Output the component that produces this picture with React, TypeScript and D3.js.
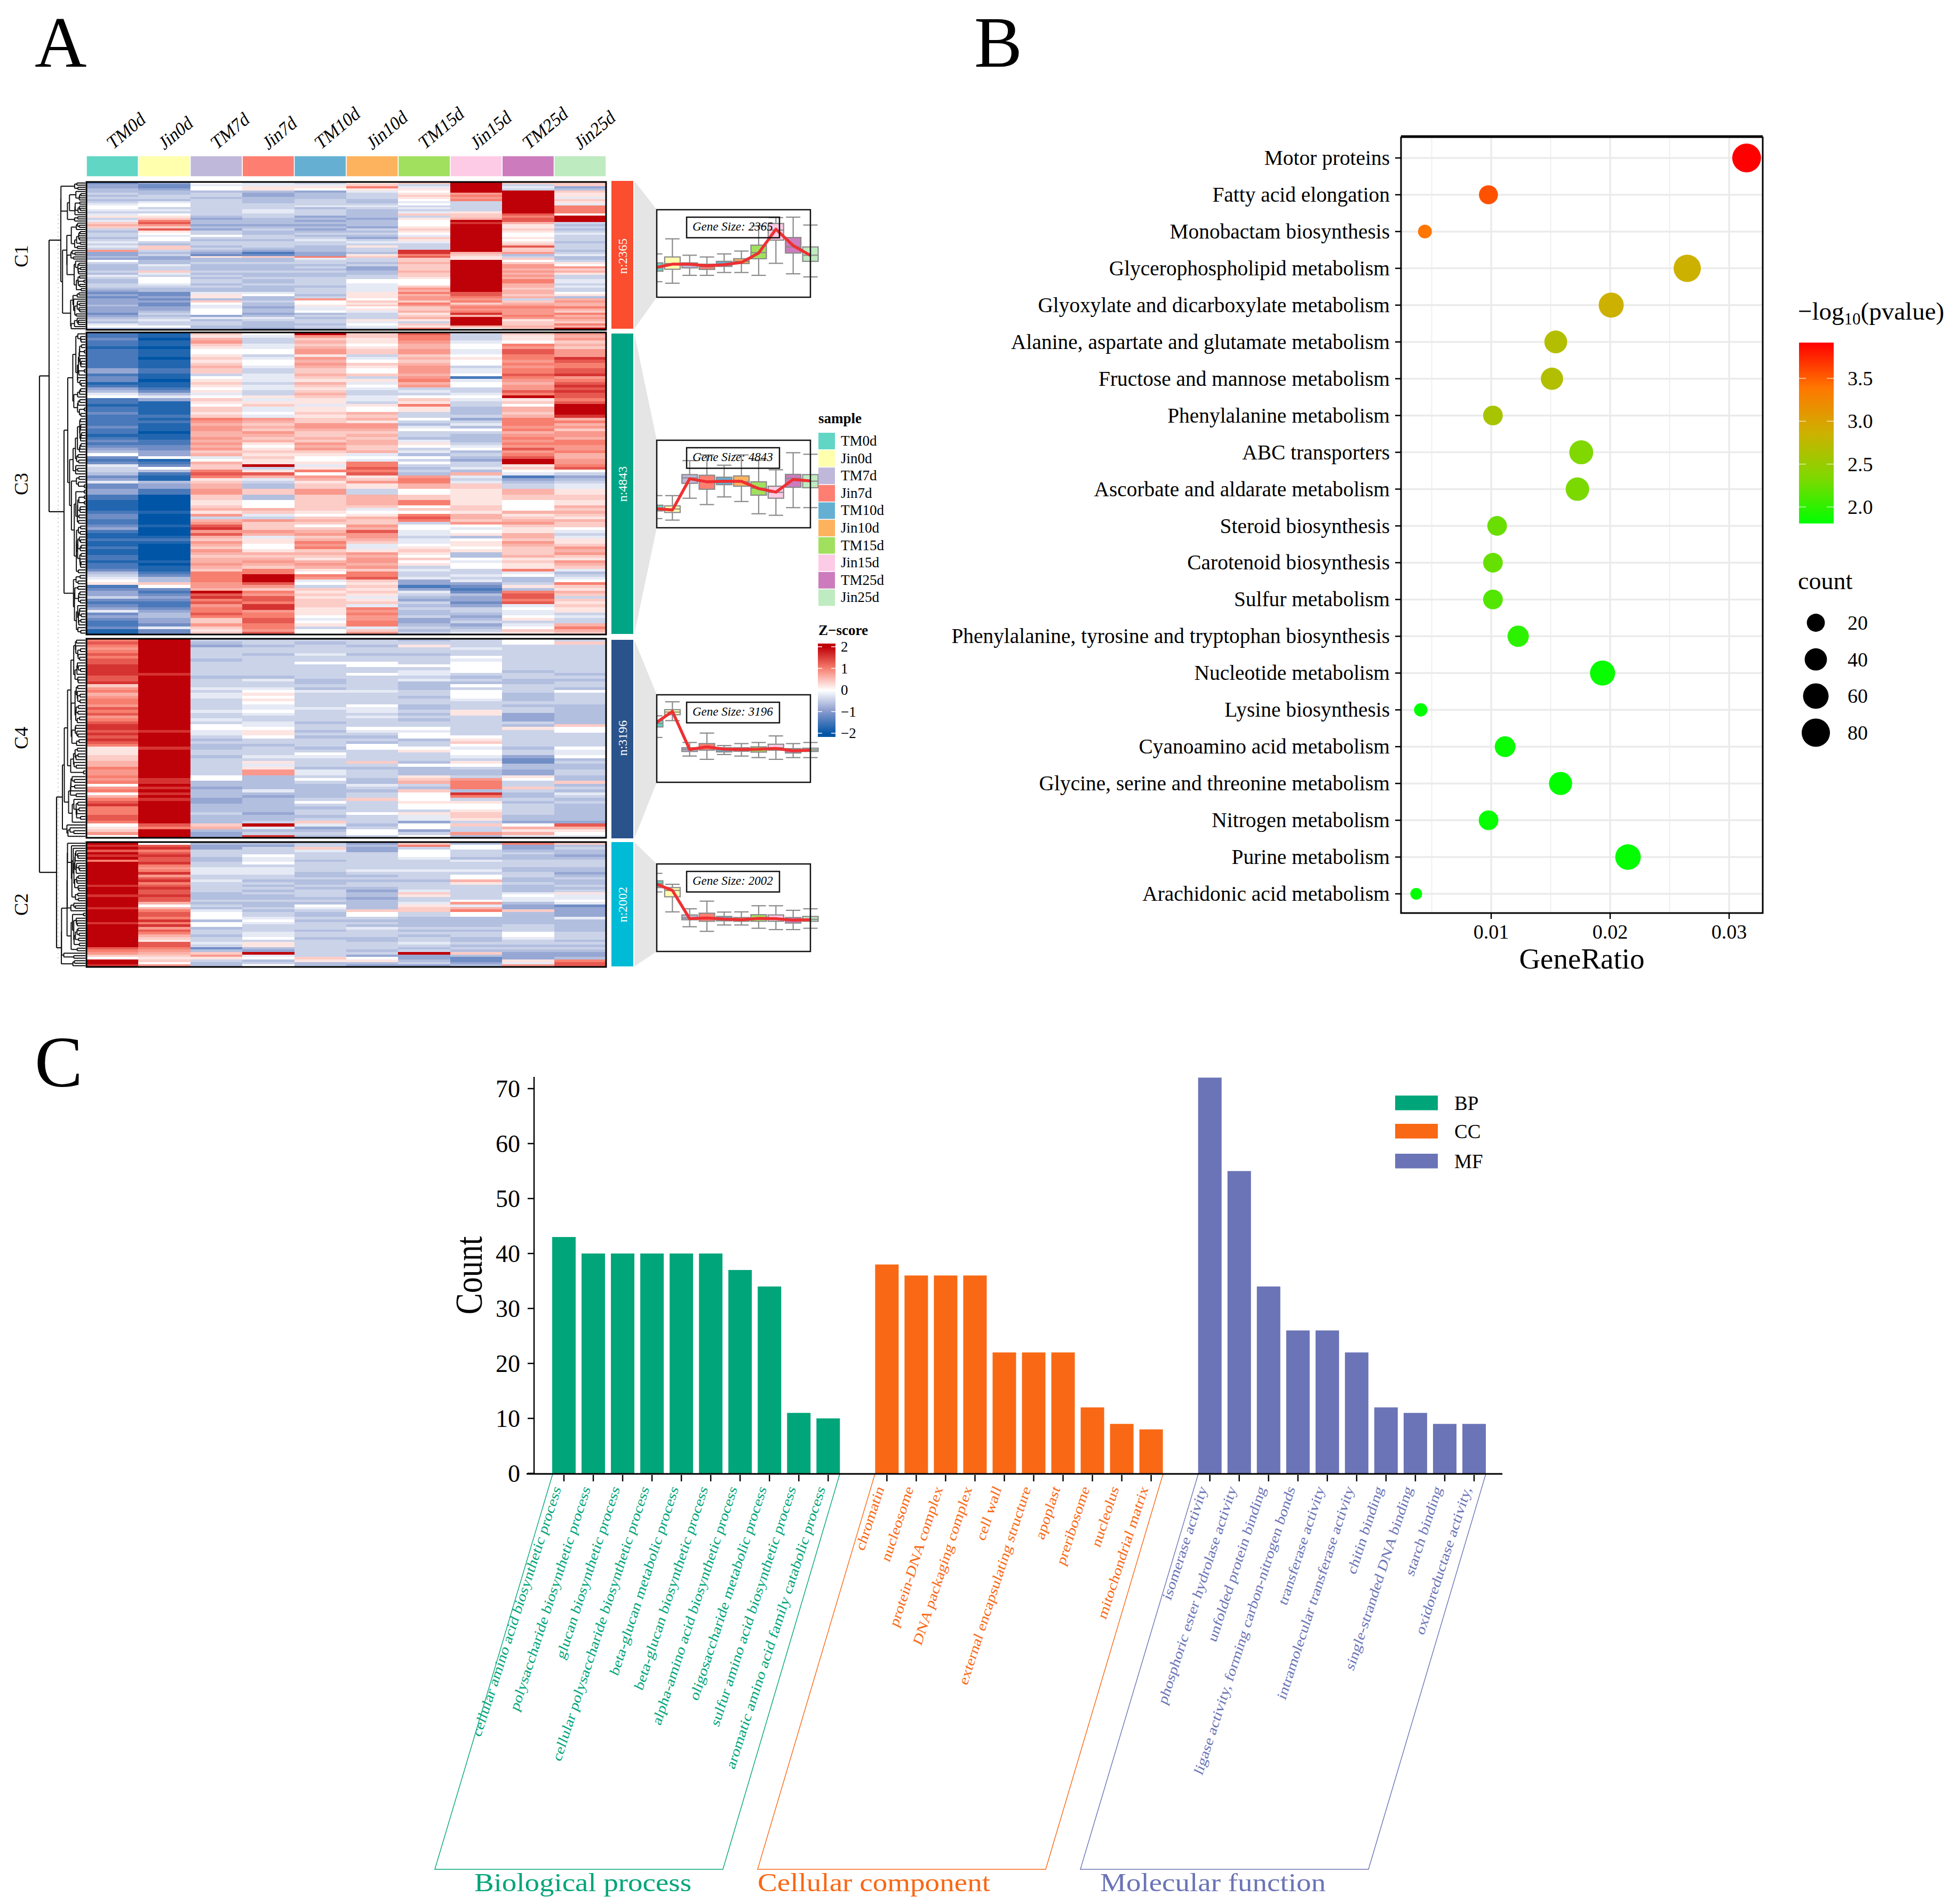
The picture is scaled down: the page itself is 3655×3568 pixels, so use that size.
import React, { useMemo } from "react";
import * as d3 from "d3";

const FONT = "'Liberation Serif', 'Times New Roman', serif";

// ---------- Panel A data ----------
const sampleNames = ["TM0d", "Jin0d", "TM7d", "Jin7d", "TM10d", "Jin10d", "TM15d", "Jin15d", "TM25d", "Jin25d"];
const sampleColors = ["#62D6C4", "#FFFFAE", "#BFB8DA", "#FE7F72", "#65B0D2", "#FDB35E", "#A0E05E", "#FDCBE6", "#CC7CBD", "#BFEBC0"];
// z-score letter levels
const levelChars = "abcdefghijklmnopq";
const levelValues = [-2, -1.75, -1.45, -1.15, -0.85, -0.62, -0.42, -0.2, 0, 0.2, 0.4, 0.6, 0.8, 1, 1.3, 1.6, 2];

const heatC1 = [
  ["deeffgfgfg", "hiihghjghk", "lkgfggfghg", "hgmeefeigf", "ffgfhgfggg", "fededeeefe", "eedefgfhif"],
  ["eddeffggfh", "iighgijkno", "mkojihiigf", "kkgfgeeffh", "ggkhgiijhg", "ffddededde", "efgfghggif"],
  ["ihiifggfgg", "ggggggfeff", "efeggigfgg", "fgfedjffgf", "ffgfgfggfg", "ffhjjfkihh", "iiiehfggff"],
  ["hhjjfeefff", "ggghhggfff", "efgffggfgg", "gfecdkffgf", "ffgffgffgf", "ffhiffgffe", "ffefhgfffe"],
  ["ghjiefffgg", "ghfgggefef", "efefgfghgg", "fffeenhggf", "gfgffggggf", "gggfgmiijh", "hifgfggfgf"],
  ["jknjhgggff", "ghgffffeff", "fegfgfeghg", "jggfjkggfg", "eeffggiihh", "hhjjjikjki", "jhgggjhihg"],
  ["kghjijkjih", "ighghkgjii", "ijkjihkjhg", "ggppnokklk", "kklkkjiiik", "mlnlmmknmk", "kljkljgkjn"],
  ["qqqqqmnmng", "ggggjkklqp", "qqqqqqqqqq", "qqqlkjjqqq", "qqqqqqqqqq", "qqoonmnkmn", "mnplqqqqli"],
  ["kghgqqqqqq", "qqqqqonool", "jjkjiijijk", "okkmfgkikm", "mlmlmlnmll", "kllklgklmn", "mmmnmjkklk"],
  ["kkefkjjhkj", "hnnnniqqqg", "fgfghgggfg", "ggfghffgji", "mkljgghggh", "ggijflmlln", "lknlmlknlq"],
];
const heatC3 = [
  ["ccdccbcdcc", "ccceccddbc", "efhiccbcdc", "cdccdccbcd", "cdefidcdhg", "gfdehddeec", "abbbbcddcc", "decbbcbbcb", "bccbccdfgh", "ijcdeegdcd", "ehdedccdbb"],
  ["bbabbabcba", "bbbcbbbabb", "cdfhebbbbc", "bbcbbbabbc", "cddeeibcdi", "fcbbfedcba", "aaaaabaaaa", "baaabcbaaa", "aaababbcdf", "fkidcdedcc", "deffeedhdd"],
  ["kjlmkjiijk", "jklkggijkj", "ijhikjikjk", "nmmlmmllml", "mlmklhilkk", "nonjklimlk", "kjikljmglm", "opmolkmlkm", "lkllmlknnn", "nmmlqopnom", "nnonkkmkjk"],
  ["ihgghhihgh", "iihghjhhgh", "hggjhjkhih", "mnlklkmlkl", "jijkjkjjqg", "jolhgfnkgf", "kihilkhgmk", "kkmlhjjiij", "lklmlknnqq", "qomknmoonp", "pmnnoonnmo"],
  ["qmklklmjjm", "lmlklmkjlk", "jklkjjhjkj", "klkmmlkklk", "mlmkjiijhj", "nimljkmmmk", "mklkkjiklk", "iklmklnmnk", "lkjlmljinm", "higkjkjkkk", "jjjihijgii"],
  ["kkjjijkjgh", "ikjikhgjhi", "hgghhgjilk", "lkjmmlklkl", "lkklhihnno", "nojkmjggjl", "kljkhijlkk", "mlommlkhhj", "mlmmlmknno", "kjkjkjhjkh", "nmnmmnnhkm"],
  ["onnmllmlkl", "klmmlkmnlm", "ghgikjnjgg", "ijgfhiggfh", "jighfigigf", "gfmnnlqikk", "onmikinong", "iihhghhijk", "jikijghggh", "eecehgfegf", "gffgeefgfg"],
  ["ggghiihkij", "iighihchii", "gghihggffg", "edghfigfff", "ghifgfeggh", "flhghknjij", "gjkkkjllkm", "ihijfijjij", "ffihiigghg", "hedcdfeede", "ggfefgefgh"],
  ["kjjinmonnn", "mnmnomnmlm", "monqjkilkl", "nmnnmnlmnm", "nmomnoqqjk", "ihcefghlmk", "lihiiljklm", "kjjllkmlkk", "kljkjjnhif", "fgjfnoonoh", "ihhijghikj"],
  ["mlmklkmnmp", "onnopomnop", "opoonoqqqp", "lmnlmkmmln", "nmmnllmmno", "igefghhjik", "jjklklkjlk", "kihghjjkml", "mkjmlkhfgh", "inkjlkgkjk", "jjghgglnlk"],
];
const heatC4 = [
  ["nonmnonoop", "pppoopkmnl", "mnnmonomno", "ppopoponjj", "jkkllnmonm", "nimnilnopn", "nnoonijkmi"],
  ["qqqqqqqqqq", "qqpqqqqqqq", "qqqqqqqqqq", "qqpqqqqqpq", "qqqqqqqoqp", "pqpqpqpqqq", "qqqqqonqqq"],
  ["gfeggggfgg", "gggfggghgh", "hgggghgghg", "iihhgfgffg", "gfgggggjii", "ffefffeeff", "fgfffklfee"],
  ["ggfggfgggg", "gggfhgghij", "ijihhihggh", "hijjiggfgg", "ghgjhjmlff", "fffhfeffff", "feffgqhfgp"],
  ["gfggghggig", "ggggffgfhg", "gggghggggf", "ggfgfgggfg", "ihgggfhggi", "gfffffgigf", "ggfgkhefgf"],
  ["ggfggfggii", "ggiggggghg", "gggihhghgg", "gihgfgfiig", "gggkgfgfgf", "fhgfggkggg", "gigggfgiig"],
  ["fgjggfgggi", "ghhghfffgg", "fggffgfgfg", "gihiifggij", "gggfiffgjk", "lgfkiiijii", "gjhheiiegi"],
  ["ggghggihii", "iigfgfigii", "ihgggjjggg", "ggggijkihi", "ihgjigfggm", "nnnfpngjii", "jkkjgkggmf"],
  ["iigggggggg", "gfggffgggf", "ffgfggeeeg", "fjggggggfg", "geddffefji", "ggkgffgfgg", "ggffeiljlh"],
  ["gkgggggggg", "ggfgfggfig", "gggfffffff", "kiigggggih", "hifgffgfff", "kfgfhgfgff", "ffffeoljih"],
];
const heatC2 = [
  ["qpqoqpqnqq", "qqqqqqqpqq", "qpqqqqpqqp", "qqpqqqqqqq", "qqonmkiqqp"],
  ["iopnopoopn", "mnpmopnopo", "opoolilnop", "npnpmonlkj", "oonmlkjkim"],
  ["feegggffgg", "hhhgghgggg", "fffgfgfhih", "ifiifggfgg", "hgdfkmjgff"],
  ["fegggihhig", "hhhggfgfgf", "gffgffgfgj", "hihggghhig", "jjfeqhifgi"],
  ["ggkhgggfgg", "ggffgffgfg", "ggfgfihgfg", "gfgggfggfg", "ggggggkjff"],
  ["efeegggggg", "ghgfgfggfe", "ffeffffkig", "gfgfhgggff", "gggfgeijfe"],
  ["kngiiihggg", "ghgggfgggh", "kjgghjkkgf", "ffffgfgfgg", "hgfgqeefge"],
  ["fiigggfhgg", "ghgiiljggg", "gggimhlnif", "ffffgfggff", "gfgfkfddef"],
  ["neefgffggg", "ffggffgfff", "hihhfeekff", "fffgggiihg", "gfgfeeejhm"],
  ["kfgffefggg", "ffefgffgfg", "jhhihdeeef", "hfffffgggf", "gfgfeefnoo"],
];

const clusterNames = ["C1", "C3", "C4", "C2"];
const clusterSizes = [2365, 4843, 3196, 2002];
const clusterColors = ["#FB4D30", "#00A585", "#2A538B", "#00BBD6"];
const clusterRows = [70, 110, 70, 50];

// box stats per sample: [upper whisker, q3, median, q1, lower whisker]
const profileC1 = [[-0.02,-0.43,-0.65,-0.81,-1.29],[0.67,-0.16,-0.46,-0.72,-1.36],[-0.08,-0.43,-0.53,-0.66,-1.0],[-0.16,-0.49,-0.61,-0.73,-1.0],[-0.02,-0.36,-0.49,-0.59,-0.87],[0.11,-0.24,-0.36,-0.46,-0.87],[1.26,0.38,0.04,-0.24,-1.0],[1.64,1.37,1.07,0.61,-0.45],[1.66,0.73,0.3,0.02,-0.93],[1.3,0.3,-0.08,-0.36,-1.07]];
const profileC3 = [[-0.53,-0.97,-1.12,-1.23,-1.58],[-0.53,-1.0,-1.14,-1.3,-1.65],[1.07,0.43,0.28,0.03,-0.65],[1.33,0.4,0.1,-0.24,-0.94],[0.86,0.31,0.1,-0.03,-0.59],[1.33,0.37,0.1,-0.1,-0.8],[1.09,0.1,-0.19,-0.51,-1.36],[0.65,-0.1,-0.38,-0.65,-1.43],[1.43,0.44,0.26,-0.15,-1.08],[1.36,0.43,0.13,-0.17,-1.08]];
const profileC4 = [[1.04,0.83,0.69,0.53,0.05],[1.68,1.32,1.21,1.09,0.82],[-0.18,-0.42,-0.5,-0.59,-0.8],[0.25,-0.23,-0.38,-0.53,-0.95],[-0.32,-0.42,-0.5,-0.61,-0.73],[-0.23,-0.42,-0.5,-0.58,-0.8],[-0.18,-0.38,-0.49,-0.62,-0.87],[0.12,-0.26,-0.42,-0.53,-0.95],[-0.23,-0.46,-0.56,-0.66,-0.87],[-0.18,-0.44,-0.52,-0.59,-0.87]];
const profileC2 = [[1.57,1.23,1.1,0.92,0.72],[1.07,0.92,0.79,0.5,-0.19],[-0.05,-0.33,-0.47,-0.55,-0.87],[0.3,-0.25,-0.47,-0.62,-1.08],[-0.2,-0.4,-0.49,-0.6,-0.79],[-0.19,-0.45,-0.53,-0.62,-0.79],[0.09,-0.32,-0.49,-0.62,-0.94],[0.09,-0.33,-0.5,-0.62,-1.0],[-0.12,-0.45,-0.57,-0.7,-1.0],[-0.05,-0.4,-0.53,-0.62,-0.94]];
const meanC1 = [-0.65,-0.49,-0.49,-0.56,-0.51,-0.41,0.02,1.11,0.36,-0.09];
const meanC3 = [-1.12,-1.19,0.24,0.1,0.13,0.12,-0.21,-0.37,0.21,0.14];
const meanC4 = [0.69,1.24,-0.5,-0.38,-0.49,-0.5,-0.49,-0.45,-0.56,-0.53];
const meanC2 = [1.1,0.79,-0.5,-0.47,-0.52,-0.55,-0.49,-0.5,-0.57,-0.55];
const zTicks = [2, 1, 0, -1, -2];

// ---------- Panel B data ----------
const pathways = ["Motor proteins","Fatty acid elongation","Monobactam biosynthesis","Glycerophospholipid metabolism","Glyoxylate and dicarboxylate metabolism","Alanine, aspartate and glutamate metabolism","Fructose and mannose metabolism","Phenylalanine metabolism","ABC transporters","Ascorbate and aldarate metabolism","Steroid biosynthesis","Carotenoid biosynthesis","Sulfur metabolism","Phenylalanine, tyrosine and tryptophan biosynthesis","Nucleotide metabolism","Lysine biosynthesis","Cyanoamino acid metabolism","Glycine, serine and threonine metabolism","Nitrogen metabolism","Purine metabolism","Arachidonic acid metabolism"];
const geneRatio = [0.03147,0.00977,0.00443,0.02648,0.02009,0.01543,0.01511,0.01015,0.01757,0.01725,0.0105,0.01015,0.01015,0.01227,0.01936,0.00408,0.01117,0.01583,0.00978,0.0215,0.0037];
const pathwayCount = [84,24,7,72,57,43,40,27,50,47,27,27,27,35,57,6,32,45,27,60,3];
const logP = [3.92,3.56,3.4,2.87,2.87,2.7,2.68,2.62,2.35,2.33,2.26,2.24,2.16,2.0,1.85,1.82,1.85,1.83,1.84,1.83,1.82];
const ratioTicks = [0.01, 0.02, 0.03];
const ratioMinor = [0.005, 0.015, 0.025];
const pTicks = [3.5, 3.0, 2.5, 2.0];
const countTicks = [20, 40, 60, 80];
const pStops = [1.82, 2.345, 2.87, 3.395, 3.92];
const pStopColors = ["#00FF00", "#7FD800", "#CDB100", "#FF7700", "#FF0000"];

// ---------- Panel C data ----------
const bpTerms = ["cellular amino acid biosynthetic process","polysaccharide biosynthetic process","glucan biosynthetic process","cellular polysaccharide biosynthetic process","beta-glucan metabolic process","beta-glucan biosynthetic process","alpha-amino acid biosynthetic process","oligosaccharide metabolic process","sulfur amino acid biosynthetic process","aromatic amino acid family catabolic process"];
const bpCounts = [43,40,40,40,40,40,37,34,11,10];
const ccTerms = ["chromatin","nucleosome","protein-DNA complex","DNA packaging complex","cell wall","external encapsulating structure","apoplast","preribosome","nucleolus","mitochondrial matrix"];
const ccCounts = [38,36,36,36,22,22,22,12,9,8];
const mfTerms = ["isomerase activity","phosphoric ester hydrolase activity","unfolded protein binding","ligase activity, forming carbon-nitrogen bonds","transferase activity","intramolecular transferase activity","chitin binding","single-stranded DNA binding","starch binding","oxidoreductase activity,"];
const mfCounts = [72,55,34,26,26,22,12,11,9,9];
const goColors = ["#00A57A", "#F96815", "#6B74B6"];
const goShort = ["BP", "CC", "MF"];
const goLong = ["Biological process", "Cellular component", "Molecular function"];
const countAxisTicks = [0, 10, 20, 30, 40, 50, 60, 70];

// ---------- helpers ----------
const zColor = d3.scaleLinear<string>().domain([-2, -1, 0, 1, 2]).range(["#0055A6", "#8497CB", "#FFFFFF", "#F77F70", "#BE0008"]).clamp(true);
const pColor = d3.scaleLinear<string>().domain(pStops).range(pStopColors).clamp(true);
const cell = (s: string, i: number, n: number) => levelValues[levelChars.indexOf(s[Math.floor((i / n) * s.length)])] ?? 0;

type Seg = [number, number, number, number];
function dendrogram(rows: number[][], yOf: (i: number) => number, leafX: number, rootX: number) {
  type Node = { y: number; h: number; v: number[]; n: number };
  let nodes: Node[] = rows.map((v, i) => ({ y: yOf(i), h: 0, v, n: 1 }));
  const merges: { a: Node; b: Node; m: Node }[] = [];
  while (nodes.length > 1) {
    let best = 0, bd = Infinity;
    for (let i = 0; i < nodes.length - 1; i++) {
      const d = d3.sum(nodes[i].v, (x, k) => (x - nodes[i + 1].v[k]) ** 2) * (nodes[i].n * nodes[i + 1].n) / (nodes[i].n + nodes[i + 1].n);
      if (d < bd) { bd = d; best = i; }
    }
    const a = nodes[best], b = nodes[best + 1];
    const m: Node = { y: (a.y + b.y) / 2, h: Math.max(Math.sqrt(bd), a.h, b.h) + 0.05, n: a.n + b.n, v: a.v.map((x, k) => (x * a.n + b.v[k] * b.n) / (a.n + b.n)) };
    merges.push({ a, b, m });
    nodes.splice(best, 2, m);
  }
  const root = nodes[0];
  const x = d3.scalePow().exponent(0.6).domain([0, root.h]).range([leafX, rootX]);
  const segs: Seg[] = [];
  merges.forEach(({ a, b, m }) => {
    segs.push([x(a.h), a.y, x(m.h), a.y], [x(b.h), b.y, x(m.h), b.y], [x(m.h), a.y, x(m.h), b.y]);
  });
  return { segs, rootY: root.y, rootX };
}

function Profile({ top, left, stats, means, size, idx }: { top: number; left: number; stats: number[][]; means: number[]; size: number; idx: number }) {
  const h = 164, w = 288;
  const y = d3.scaleLinear().domain([-2, 2]).range([top + h, top]);
  const x = d3.scaleLinear().domain([0, 9]).range([left - 3, left + w]);
  const line = d3.line<number>().x((_, i) => x(i)).y((d) => y(d));
  return (
    <g>
      <defs>
        <clipPath id={`pc${idx}`}><rect x={left} y={top - 10} width={w + 60} height={h + 20} /></clipPath>
      </defs>
      <g clipPath={`url(#pc${idx})`}>
        {stats.map((s, i) => {
          const cx = x(i);
          return (
            <g key={i} stroke="#8A8A8A" strokeWidth={2.2}>
              <line x1={cx} x2={cx} y1={y(s[0])} y2={y(s[4])} />
              <line x1={cx - 13.5} x2={cx + 13.5} y1={y(s[0])} y2={y(s[0])} />
              <line x1={cx - 13.5} x2={cx + 13.5} y1={y(s[4])} y2={y(s[4])} />
              <rect x={cx - 14.5} width={29} y={y(s[1])} height={y(s[3]) - y(s[1])} fill={sampleColors[i]} />
              <line x1={cx - 14.5} x2={cx + 14.5} y1={y(s[2])} y2={y(s[2])} />
            </g>
          );
        })}
        <path d={line(means) ?? ""} fill="none" stroke="#EE3032" strokeWidth={5.5} strokeLinejoin="round" />
      </g>
      <rect x={left} y={top} width={w} height={h} fill="none" stroke="#111" strokeWidth={2.5} />
      <rect x={left + 56} y={top + 14} width={174} height={38.5} fill="none" stroke="#111" strokeWidth={2.5} />
      <text x={left + 67} y={top + 39} fontSize={23} fontStyle="italic" fontFamily={FONT}>{`Gene Size: ${size}`}</text>
    </g>
  );
}

function PanelA() {
  const tops = [341, 623, 1197, 1578];
  const bottoms = [618, 1189, 1570, 1812];
  const barTops = [339, 625, 1199, 1578];
  const barBottoms = [616, 1188, 1571, 1811];
  const boxTops = [393, 825, 1302, 1619];
  const heats = [heatC1, heatC3, heatC4, heatC2];
  const stats = [profileC1, profileC3, profileC4, profileC2];
  const means = [meanC1, meanC3, meanC4, meanC2];
  const labelY = [480, 907, 1383, 1695];
  const rootXs = [114, 120, 117, 115];
  const x = d3.scaleBand<number>().domain(d3.range(10)).range([162, 1136]);

  const dendros = useMemo(() => heats.map((heat, c) => {
    const n = clusterRows[c];
    const rows = d3.range(n).map((i) => heat.map((col) => cell(col.join(""), i, n)));
    const y = d3.scaleBand<number>().domain(d3.range(n)).range([tops[c], bottoms[c]]);
    return dendrogram(rows, (i) => (y(i) ?? 0) + y.bandwidth() / 2, 160, rootXs[c]);
  }), []);
  const midTop = (dendros[0].rootY + dendros[1].rootY) / 2;
  const midBottom = (dendros[2].rootY + dendros[3].rootY) / 2;

  return (
    <g fontFamily={FONT}>
      <text x={65} y={125} fontSize={135}>A</text>
      {sampleNames.map((s, j) => (
        <g key={s}>
          <text transform={`translate(${(x(j) ?? 0) + x.bandwidth() / 2},282) scale(1,1.2) rotate(-35)`} fontSize={31}>{s}</text>
          <rect x={x(j)} y={292} width={x.bandwidth()} height={39} fill={sampleColors[j]} stroke="#fff" strokeWidth={1.5} />
        </g>
      ))}
      {/* dotted guide left of the trees */}
      <line x1={109} x2={109} y1={402} y2={1800} stroke="#BBB" strokeWidth={1.5} strokeDasharray="2 6" />
      {heats.map((heat, c) => {
        const n = clusterRows[c];
        const y = d3.scaleBand<number>().domain(d3.range(n)).range([tops[c], bottoms[c]]);
        return (
          <g key={c}>
            <path d={`M1189,${barTops[c]} L1231,${boxTops[c]} L1231,${boxTops[c] + 164} L1189,${barBottoms[c]} Z`} fill="#E5E5E5" />
            <g shapeRendering="crispEdges">
              {heat.map((col, j) => {
                const s = col.join("");
                return d3.range(n).map((i) => (
                  <rect key={`${j}-${i}`} x={x(j)} y={y(i)} width={x.bandwidth() + 0.5} height={y.bandwidth() + 0.6} fill={zColor(cell(s, i, n))} />
                ));
              })}
            </g>
            <rect x={162} y={tops[c]} width={974} height={bottoms[c] - tops[c]} fill="none" stroke="#000" strokeWidth={3} />
            <rect x={1146} y={barTops[c]} width={41} height={barBottoms[c] - barTops[c]} fill={clusterColors[c]} />
            <text transform={`translate(1175,${labelY[c]}) rotate(-90)`} textAnchor="middle" fontSize={24} fill="#fff">{`n:${clusterSizes[c]}`}</text>
            <text transform={`translate(52,${labelY[c]}) rotate(-90)`} textAnchor="middle" fontSize={36}>{clusterNames[c]}</text>
            <g stroke="#111" strokeWidth={2} fill="none">
              {dendros[c].segs.map((s, k) => <line key={k} x1={s[0]} y1={s[1]} x2={s[2]} y2={s[3]} />)}
            </g>
            <Profile top={boxTops[c]} left={1231} stats={stats[c]} means={means[c]} size={clusterSizes[c]} idx={c} />
          </g>
        );
      })}
      <g stroke="#111" strokeWidth={2.2} fill="none">
        <line x1={92} x2={dendros[0].rootX} y1={dendros[0].rootY} y2={dendros[0].rootY} />
        <line x1={92} x2={dendros[1].rootX} y1={dendros[1].rootY} y2={dendros[1].rootY} />
        <line x1={92} x2={92} y1={dendros[0].rootY} y2={dendros[1].rootY} />
        <line x1={106} x2={dendros[2].rootX} y1={dendros[2].rootY} y2={dendros[2].rootY} />
        <line x1={106} x2={dendros[3].rootX} y1={dendros[3].rootY} y2={dendros[3].rootY} />
        <line x1={106} x2={106} y1={dendros[2].rootY} y2={dendros[3].rootY} />
        <line x1={74} x2={92} y1={midTop} y2={midTop} />
        <line x1={74} x2={106} y1={midBottom} y2={midBottom} />
        <line x1={74} x2={74} y1={midTop} y2={midBottom} />
      </g>
      {/* sample legend */}
      <text x={1534} y={793} fontSize={27} fontWeight="bold">sample</text>
      {sampleNames.map((s, j) => (
        <g key={s}>
          <rect x={1534} y={811 + j * 32.6} width={31} height={31} fill={sampleColors[j]} />
          <text x={1576} y={835 + j * 32.6} fontSize={27}>{s}</text>
        </g>
      ))}
      <text x={1534} y={1190} fontSize={27} fontWeight="bold">{"Z\u2212score"}</text>
      <defs>
        <linearGradient id="zGrad" x1="0" x2="0" y1="1" y2="0">
          {zTicks.slice().reverse().map((t) => <stop key={t} offset={`${((t + 2.15) / 4.3) * 100}%`} stopColor={zColor(t)} />)}
        </linearGradient>
        <linearGradient id="pGrad" x1="0" x2="0" y1="1" y2="0">
          {pStops.map((t) => <stop key={t} offset={`${((t - 1.82) / 2.1) * 100}%`} stopColor={pColor(t)} />)}
        </linearGradient>
      </defs>
      <rect x={1533} y={1206} width={33} height={175} fill="url(#zGrad)" />
      {zTicks.map((t) => {
        const y = d3.scaleLinear().domain([-2, 2]).range([1374, 1212])(t);
        return (
          <g key={t}>
            <line x1={1533} x2={1541} y1={y} y2={y} stroke="#fff" strokeWidth={1.5} />
            <line x1={1558} x2={1566} y1={y} y2={y} stroke="#fff" strokeWidth={1.5} />
            <text x={1576} y={y + 9} fontSize={27}>{t < 0 ? `\u2212${-t}` : t}</text>
          </g>
        );
      })}
    </g>
  );
}

function PanelB() {
  const x = d3.scaleLinear().domain([0.01, 0.03]).range([2795, 3241]);
  const y = d3.scalePoint<string>().domain(pathways).range([296, 1675]);
  const r = d3.scaleSqrt().domain([3, 84]).range([11, 27]);
  const L = 2626, R = 3304, T = 256, B = 1711;
  const cby = d3.scaleLinear().domain([2, 3.5]).range([950, 709]);
  return (
    <g fontFamily={FONT}>
      <text x={1826} y={125} fontSize={135}>B</text>
      {ratioMinor.map((t) => <line key={t} x1={x(t)} x2={x(t)} y1={T} y2={B} stroke="#EFEFEF" strokeWidth={2} />)}
      {ratioTicks.map((t) => <line key={t} x1={x(t)} x2={x(t)} y1={T} y2={B} stroke="#EBEBEB" strokeWidth={3.5} />)}
      {pathways.map((p) => <line key={p} x1={L} x2={R} y1={y(p)} y2={y(p)} stroke="#EBEBEB" strokeWidth={3.5} />)}
      {pathways.map((p, i) => <circle key={p} cx={x(geneRatio[i])} cy={y(p)} r={r(pathwayCount[i])} fill={pColor(logP[i])} />)}
      <path d={`M${L},${T}H${R}`} stroke="#000" strokeWidth={5} />
      <path d={`M${L},${T}V${B}H${R}V${T}`} fill="none" stroke="#000" strokeWidth={3} />
      {pathways.map((p) => (
        <g key={p}>
          <line x1={L - 11} x2={L} y1={y(p)} y2={y(p)} stroke="#000" strokeWidth={2.5} />
          <text x={L - 21} y={(y(p) ?? 0) + 13} textAnchor="end" fontSize={39.4}>{p}</text>
        </g>
      ))}
      {ratioTicks.map((t) => (
        <g key={t}>
          <line x1={x(t)} x2={x(t)} y1={B} y2={B + 11} stroke="#000" strokeWidth={2.5} />
          <text x={x(t)} y={1759} textAnchor="middle" fontSize={38}>{t.toFixed(2)}</text>
        </g>
      ))}
      <text x={2965} y={1815} textAnchor="middle" fontSize={55}>GeneRatio</text>
      <text x={3370} y={599} fontSize={47}>{"\u2212log"}<tspan fontSize={31} dy={9}>10</tspan><tspan dy={-9}>(pvalue)</tspan></text>
      <rect x={3372} y={642} width={65} height={339} fill="url(#pGrad)" />
      {pTicks.map((t) => (
        <g key={t}>
          <line x1={3372} x2={3385} y1={cby(t)} y2={cby(t)} stroke="#fff" strokeOpacity={0.7} strokeWidth={1.5} />
          <line x1={3424} x2={3437} y1={cby(t)} y2={cby(t)} stroke="#fff" strokeOpacity={0.7} strokeWidth={1.5} />
          <text x={3463} y={cby(t) + 13} fontSize={38}>{t.toFixed(1)}</text>
        </g>
      ))}
      <text x={3370} y={1104} fontSize={46}>count</text>
      {countTicks.map((c, i) => {
        const cy = 1167 + i * 68.7;
        return (
          <g key={c}>
            <circle cx={3403.5} cy={cy} r={r(c)} fill="#000" />
            <text x={3463} y={cy + 13} fontSize={38}>{c}</text>
          </g>
        );
      })}
    </g>
  );
}

function PanelC() {
  const groups = [
    { terms: bpTerms, counts: bpCounts, offset: 0 },
    { terms: ccTerms, counts: ccCounts, offset: 11 },
    { terms: mfTerms, counts: mfCounts, offset: 22 },
  ];
  const x = d3.scaleLinear().domain([0, 31]).range([1057, 2763]);
  const y = d3.scaleLinear().domain([0, 70]).range([2761, 2040]);
  const para = [
    [1036, 815, 1355, 1574],
    [1640, 1420, 1960, 2180],
    [2246, 2025, 2565, 2785],
  ];
  const titleX = [[889, 407], [1420, 436], [2062, 423]];
  const legendY = [2053, 2106, 2162];
  return (
    <g fontFamily={FONT}>
      <text x={65} y={2036} fontSize={135}>C</text>
      {groups.map((g, k) => (
        <g key={k}>
          {g.counts.map((c, i) => (
            <rect key={i} x={x(g.offset + i) - 22} y={y(c)} width={44} height={y(0) - y(c)} fill={goColors[k]} />
          ))}
          {g.terms.map((t, i) => (
            <g key={t}>
              <line x1={x(g.offset + i)} x2={x(g.offset + i)} y1={2764} y2={2776} stroke="#000" strokeWidth={2.5} />
              <text transform={`translate(${x(g.offset + i) - 5},2790) scale(1,1.245) rotate(-68)`} textAnchor="end" fontSize={25.2} fill={goColors[k]}>{t}</text>
            </g>
          ))}
          <path d={`M${para[k][0]},2762L${para[k][1]},3503H${para[k][2]}L${para[k][3]},2762`} fill="none" stroke={goColors[k]} strokeWidth={1.4} />
          <text x={titleX[k][0]} y={3544} fontSize={48} fill={goColors[k]} textLength={titleX[k][1]} lengthAdjust="spacingAndGlyphs">{goLong[k]}</text>
          <rect x={2615} y={legendY[k]} width={80} height={27.5} fill={goColors[k]} />
          <text x={2726} y={legendY[k] + 27} fontSize={37}>{goShort[k]}</text>
        </g>
      ))}
      <line x1={1001} x2={1001} y1={2018} y2={2762} stroke="#000" strokeWidth={2.5} />
      <line x1={987} x2={2816} y1={2762} y2={2762} stroke="#000" strokeWidth={3} />
      {countAxisTicks.map((t) => (
        <g key={t}>
          <line x1={989} x2={1001} y1={y(t)} y2={y(t)} stroke="#000" strokeWidth={2.5} />
          <text x={975} y={y(t) + 16} textAnchor="end" fontSize={46}>{t}</text>
        </g>
      ))}
      <text transform="translate(903,2390) rotate(-90) scale(1,1.2)" textAnchor="middle" fontSize={60}>Count</text>
    </g>
  );
}

export default function App() {
  return (
    <svg width={3655} height={3568} viewBox="0 0 3655 3568" style={{ position: "absolute", left: 0, top: 0, background: "#fff" }}>
      <PanelA />
      <PanelB />
      <PanelC />
    </svg>
  );
}
